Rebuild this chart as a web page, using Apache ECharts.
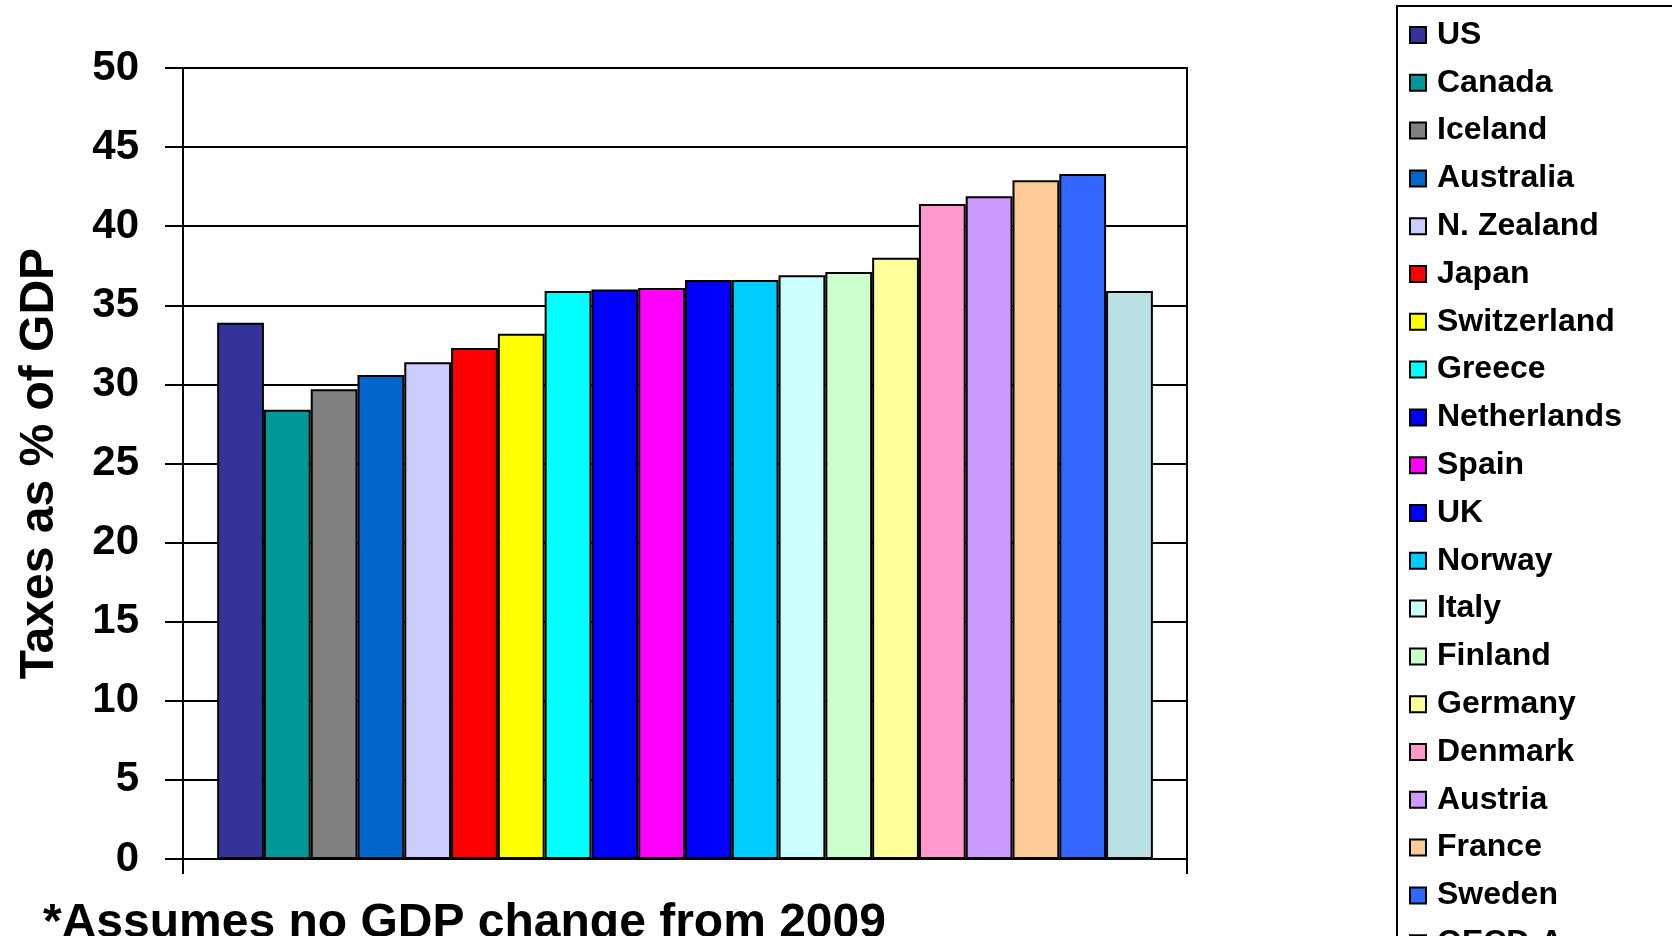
<!DOCTYPE html>
<html>
<head>
<meta charset="utf-8">
<script src="https://cdn.jsdelivr.net/npm/echarts@6/dist/echarts.min.js"></script>
<style>
  html, body { margin: 0; padding: 0; background: #fff; }
  #chart { width: 1672px; height: 936px; }
</style>
</head>
<body>
<div id="chart"></div>
<script>
// Countries, one bar (series) each, in plotted order
const countries = ['US', 'Canada', 'Iceland', 'Australia', 'N. Zealand', 'Japan', 'Switzerland',
  'Greece', 'Netherlands', 'Spain', 'UK', 'Norway', 'Italy', 'Finland', 'Germany',
  'Denmark', 'Austria', 'France', 'Sweden', 'OECD-A'];

// Taxes as % of GDP
const taxShare = [33.9, 28.4, 29.7, 30.6, 31.4, 32.3, 33.2,
  35.9, 36.0, 36.1, 36.6, 36.6, 36.9, 37.1, 38.0,
  41.4, 41.9, 42.9, 43.3, 35.9];

// Fill colour of each country's bar
const barColors = ['#333399', '#009999', '#808080', '#0066CC', '#CCCCFF', '#FF0000', '#FFFF00',
  '#00FFFF', '#0000FF', '#FF00FF', '#0000FF', '#00CCFF', '#CCFFFF', '#CCFFCC', '#FFFF99',
  '#FF99CC', '#CC99FF', '#FFCC99', '#3366FF', '#B9E0E3'];

const yTicks = { min: 0, max: 50, step: 5 };
const yTitle = 'Taxes as % of GDP';
const footnote = '*Assumes no GDP change from 2009';

const FONT = '"Liberation Sans", Arial, sans-serif';

const chart = echarts.init(document.getElementById('chart'), null, { renderer: 'canvas' });

const series = countries.map((name, i) => ({
  name: name,
  type: 'bar',
  data: [taxShare[i]],
  barGap: '0%',
  barCategoryGap: '6.8%',
  itemStyle: { color: barColors[i], borderColor: '#000', borderWidth: 2 },
  emphasis: { disabled: true },
  silent: true
}));

chart.setOption({
  animation: false,
  backgroundColor: '#fff',
  grid: {
    left: 183, right: 485, top: 68, bottom: 77,
    show: true, borderColor: '#000', borderWidth: 2, backgroundColor: 'transparent'
  },
  xAxis: {
    type: 'category',
    data: [''],
    axisLine: { lineStyle: { color: '#000', width: 2 } },
    axisTick: { show: true, length: 15, alignWithLabel: false, lineStyle: { color: '#000', width: 2 } },
    axisLabel: { show: false },
    splitLine: { show: false }
  },
  yAxis: {
    type: 'value',
    min: yTicks.min, max: yTicks.max, interval: yTicks.step,
    name: yTitle,
    nameLocation: 'middle',
    nameGap: 119,
    nameTextStyle: { fontFamily: FONT, fontWeight: 'bold', fontSize: 48, color: '#000' },
    axisLine: { show: true, lineStyle: { color: '#000', width: 2 } },
    axisTick: { show: true, length: 18, lineStyle: { color: '#000', width: 2 } },
    axisLabel: { margin: 44, fontFamily: FONT, fontWeight: 'bold', fontSize: 42, color: '#000', padding: [8, 0, 0, 0] },
    splitLine: { show: true, lineStyle: { color: '#000', width: 2 } }
  },
  legend: {
    orient: 'vertical',
    left: 1397, top: 6, height: 2000,
    padding: [13, 140, 10, 12],
    borderColor: '#000', borderWidth: 2,
    backgroundColor: '#fff',
    itemWidth: 16, itemHeight: 16, itemGap: 15.8,
    icon: 'rect',
    selectedMode: false,
    textStyle: { fontFamily: FONT, fontWeight: 'bold', fontSize: 32, lineHeight: 32, color: '#000', padding: [0, 0, 0, 6] },
    data: countries
  },
  graphic: [{
    type: 'text',
    left: 43, top: 900,
    style: { text: footnote, fontFamily: FONT, fontWeight: 'bold', fontSize: 48, fill: '#000' }
  }],
  series: series
});
</script>
</body>
</html>
